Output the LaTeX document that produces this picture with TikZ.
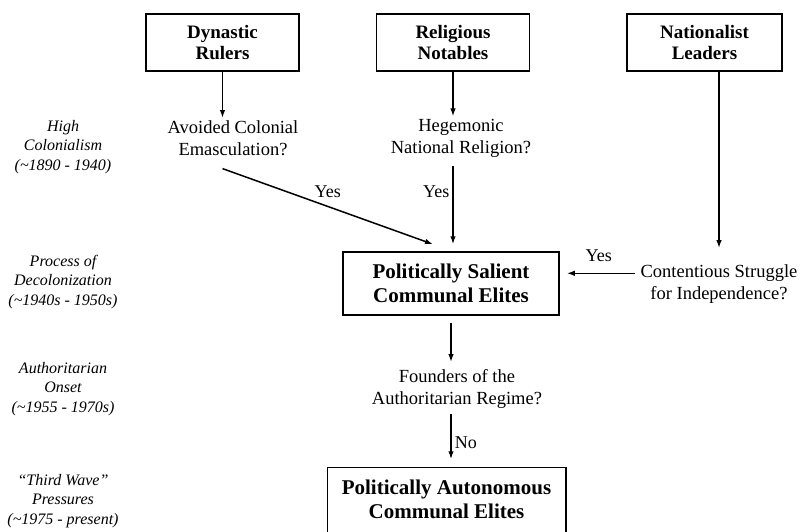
\documentclass[tikz,border=0pt]{standalone}
\usepackage{fontspec}
\setmainfont{Liberation Serif}
\usetikzlibrary{arrows.meta}
\tikzset{
  every picture/.style={>={Latex[length=8pt,width=5.5pt]}, line width=1.5pt},
  actor/.style={draw, minimum width=153pt, minimum height=57pt, align=center,
    font=\fontsize{19}{21}\selectfont\bfseries},
  elite/.style={minimum height=63pt, align=center,
    font=\fontsize{21}{24}\selectfont\bfseries},
  query/.style={align=center, inner sep=2pt, font=\fontsize{18.5}{22}\selectfont},
  era/.style={align=center, font=\fontsize{16}{19.5}\selectfont\itshape},
  ans/.style={inner sep=3pt, font=\fontsize{18}{20}\selectfont},
  flow/.style={->},
}
\newcommand{\bbox}{\path[use as bounding box] (0,0) rectangle (801,531);}

\begin{document}
\begin{tikzpicture}[x=1pt,y=-1pt]
  \bbox
  \node[era] (high) at (63,147) {High\\Colonialism\\(\textasciitilde1890 - 1940)};
  \node[era] (decol) at (63,282) {Process of\\Decolonization\\(\textasciitilde1940s - 1950s)};
  \node[era] (onset) at (63,389) {Authoritarian\\Onset\\(\textasciitilde1955 - 1970s)};
  \node[era] (third) at (63,501) {“Third Wave”\\Pressures\\(\textasciitilde1975 - present)};
  \node[actor] (dyn) at (222.5,42.5) {Dynastic\\Rulers};
  \node[actor] (rel) at (453,42.5) {Religious\\Notables};
  \node[actor, minimum width=155pt] (nat) at (704.5,42.5) {Nationalist\\Leaders};
  \node[query] (colonial) at (233,138.3) {Avoided Colonial\\Emasculation?};
  \node[query] (religion) at (461,138.3) {Hegemonic\\National Religion?};
  \node[query] (struggle) at (719,284.3) {Contentious Struggle\\for Independence?};
  \node[elite, draw, minimum width=216pt] (salient) at (451,283.5) {Politically Salient\\Communal Elites};
  \node[query] (founders) at (457,389.3) {Founders of the\\Authoritarian Regime?};
  \node[elite, minimum width=237pt] (auton) at (446.5,499.5) {Politically Autonomous\\Communal Elites};
  \draw (auton.south west) |- (auton.north east) -- (auton.south east);
  \draw[flow] (dyn) -- (dyn |- colonial.north);
  \draw[flow] (rel) -- (rel |- religion.north);
  \draw[flow, shorten >=14pt] (nat.south -| struggle) -- (struggle.north);
  \draw[flow] ([yshift=-10pt]dyn |- colonial.south) -- ([shift={(-18pt,7pt)}]salient.north)
    node[ans, midway, above=5pt] (yesdyn) {Yes};
  \draw[flow, shorten <=6pt, shorten >=7pt] (rel |- religion.south) -- (rel |- salient.north)
    node[ans, pos=0.35, left] (yesrel) {Yes};
  \draw[flow, shorten <=3pt, shorten >=7pt] ([yshift=11pt]struggle.west) -- ([yshift=11pt]struggle.west -| salient.east)
    node[ans, midway, above=8pt] (yesnat) {Yes};
  \draw[flow, shorten <=7pt, shorten >=5pt] (salient) -- (salient.south |- founders.north);
  \draw[flow, shorten <=2.5pt, shorten >=8pt] (founders.south -| salient) -- (salient |- auton.north)
    node[ans, pos=0.55, right] (nofound) {No};
\end{tikzpicture}
\end{document}
